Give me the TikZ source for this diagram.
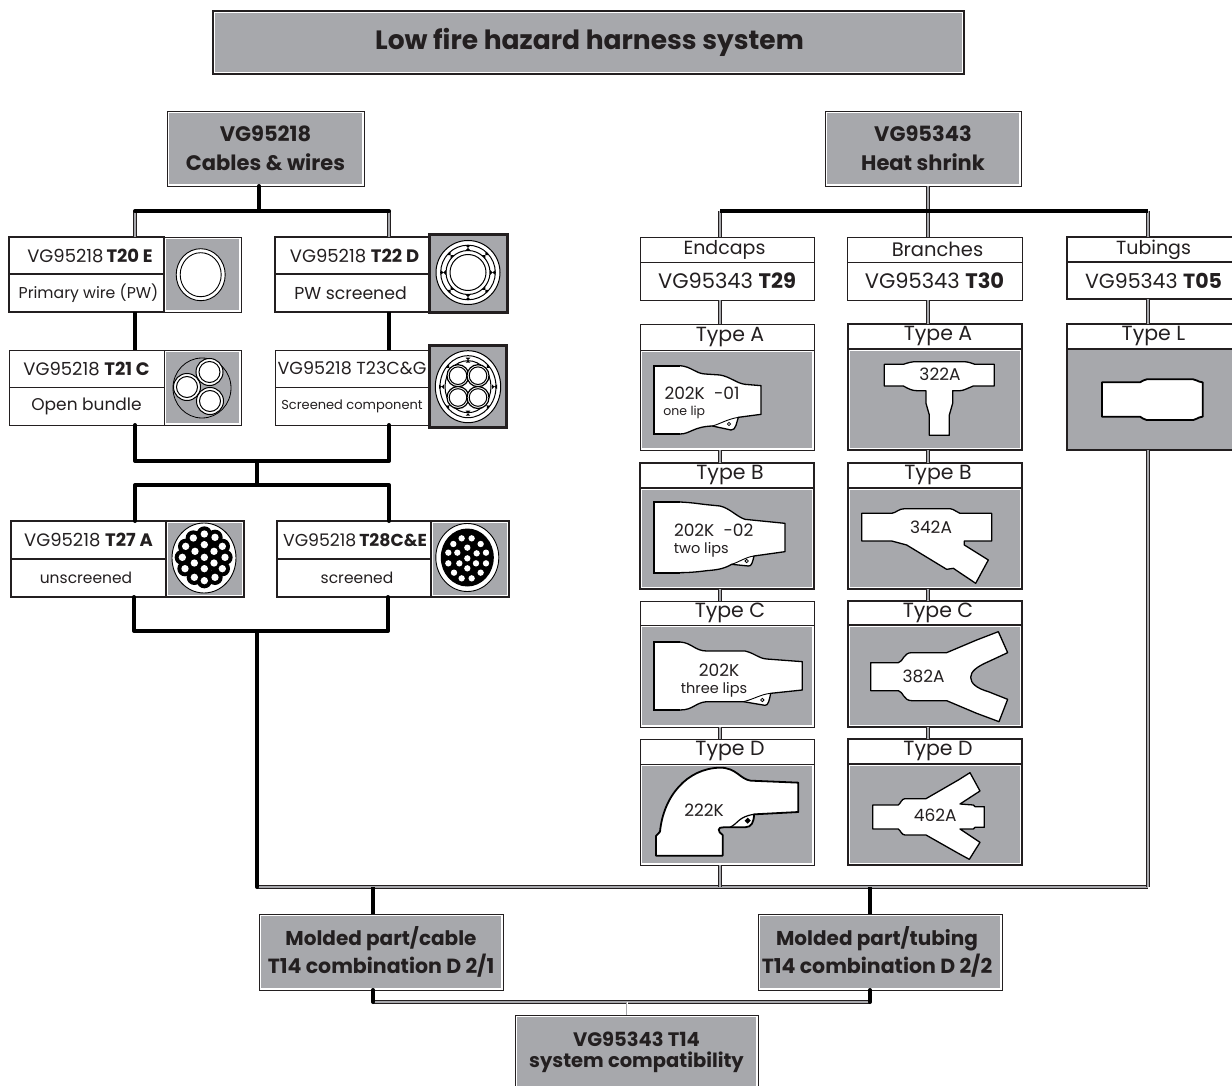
\documentclass[tikz,border=0pt]{standalone}
\usepackage{fontspec}
\setmainfont{Poppins}
\definecolor{hgray}{HTML}{A7A8AC}
\definecolor{ink}{HTML}{231F20}
\newcommand{\fs}[1]{\fontsize{#1}{#1}\selectfont}
% \cellbox{name}{x0}{y0}{x1}{y1}{style}{text}
\newcommand{\cellbox}[7]{\node[boxbase,#6,minimum width={(#4)-(#2)},minimum height={(#5)-(#3)}] (#1) at ({((#2)+(#4))/2},{((#3)+(#5))/2}) {#7};}
% gray panel with a white inner edge
\newcommand{\graybox}[7]{\node[boxbase,#6,fill=white,minimum width={(#4)-(#2)},minimum height={(#5)-(#3)}] (#1) at ({((#2)+(#4))/2},{((#3)+(#5))/2}) {};
\node[boxbase,draw=none,fill=hgray,minimum width={(#4)-(#2)-4},minimum height={(#5)-(#3)-4}] (#1-in) at (#1.center) {#7};}
\newcommand{\dn}[1]{\raisebox{-#1pt}}
\tikzset{
 boxbase/.style={rectangle,draw=ink,fill=white,inner sep=0pt,outer sep=0pt,align=center,text=ink,line width=1pt},
 thinb/.style={line width=0.9pt},
 medb/.style={line width=2pt},
 hvyb/.style={line width=3pt},
 boldline/.style={draw=black,line width=4pt,line cap=round,line join=round},
 twin/.style={draw=ink,line width=3.4pt,postaction={draw=hgray,line width=1.6pt}},
 shapeline/.style={draw=black,fill=white,line width=1.3pt,line join=round},
 part/.style={shift={(#1)},x=0.33333pt,y=-0.33333pt},
 lab/.style={inner sep=0pt,text=ink,align=center},
}
\begin{document}
\begin{tikzpicture}[x=1pt,y=-1pt]
\useasboundingbox (0,0) rectangle (1232,1086);
\fill[white] (0,0) rectangle (1232,1086);

% ---- head boxes
\graybox{title}{213}{11}{964}{74}{line width=2.6pt}{\hspace*{2pt}\fs{26.5}\bfseries Low fire hazard harness system}
\graybox{vgl}{167}{111}{364}{186}{thinb}{\fs{21}\bfseries VG95218\\[11pt]\fs{21}\bfseries Cables \& wires}
\graybox{vgr}{825}{111}{1021}{186}{thinb}{\fs{21}\bfseries VG95343\\[11pt]\fs{21}\bfseries Heat shrink}

% ---- left column
\cellbox{t20a}{9}{237}{164}{274}{medb}{\hspace*{7pt}\fs{18}VG95218\,\textbf{T20 E}}
\cellbox{t20b}{9}{274}{164}{312}{medb}{\hspace*{4pt}\fs{15.7}Primary wire (PW)}
\graybox{t20i}{164}{237}{241}{312}{thinb}{}
\cellbox{t22a}{275}{237}{429}{274}{medb}{\hspace*{5pt}\fs{18}VG95218 \textbf{T22 D}}
\cellbox{t22b}{275}{274}{429}{312}{medb}{\fs{17.3}PW screened\hspace*{3pt}}
\node[boxbase,hvyb,fill=hgray,minimum width=78,minimum height=78] (t22i) at (468.5,273.5) {};
\cellbox{t21a}{9}{350}{164}{387}{thinb}{\fs{18}VG95218 \textbf{T21 C}}
\cellbox{t21b}{9}{387}{164}{425}{thinb}{\fs{17}Open bundle}
\graybox{t21i}{164}{350}{241}{425}{thinb}{}
\cellbox{t23a}{275}{350}{429}{387}{thinb}{\fs{17.5}VG95218 T23C\&G}
\cellbox{t23b}{275}{387}{429}{425}{thinb}{\fs{13}Screened component}
\node[boxbase,hvyb,fill=hgray,minimum width=77,minimum height=82] (t23i) at (468,386.5) {};
\cellbox{t27a}{11}{521}{166}{559}{medb}{\fs{18}VG95218 \textbf{T27 A}}
\cellbox{t27b}{11}{559}{166}{597}{medb}{\hspace*{0pt}\fs{15.5}unscreened\hspace*{5pt}}
\graybox{t27i}{166}{521}{244}{597}{medb}{}
\cellbox{t28a}{277}{521}{431}{559}{medb}{\hspace*{2pt}\fs{17.3}VG95218\,\textbf{T28C\&E}}
\cellbox{t28b}{277}{559}{431}{597}{medb}{\hspace*{6pt}\fs{15.5}screened}
\graybox{t28i}{431}{521}{509}{597}{medb}{}

% ---- right column headers
\cellbox{enda}{640}{237}{814}{262}{thinb}{\dn{1.5}{\fs{19}Endcaps}\hspace*{5pt}}
\cellbox{endb}{640}{262}{814}{300}{thinb}{\dn{1}{\fs{21}VG95343 \textbf{T29}}}
\cellbox{bra}{847}{237}{1022}{262}{thinb}{\hspace*{6pt}\dn{1}{\fs{19.5}Branches}}
\cellbox{brb}{847}{262}{1022}{300}{thinb}{\dn{1}{\fs{21}VG95343 \textbf{T30}}}
\cellbox{tua}{1067}{237}{1236}{262}{medb}{\hspace*{4pt}\dn{1.5}{\fs{19}Tubings}}
\cellbox{tub}{1067}{262}{1236}{299}{medb}{\hspace*{4pt}\dn{1}{\fs{20.5}VG95343 \textbf{T05}}}

% ---- type panels: endcaps
\cellbox{eAh}{640}{324}{814}{350}{thinb}{\hspace*{6pt}\dn{2.5}{\fs{20.5}Type A}}
\graybox{eAp}{640}{350}{814}{450}{thinb}{}
\cellbox{eBh}{640}{463}{814}{488}{medb}{\hspace*{6pt}\dn{2.5}{\fs{20.5}Type B}}
\graybox{eBp}{640}{488}{814}{589}{medb}{}
\cellbox{eCh}{640}{601}{814}{625}{thinb}{\hspace*{6pt}\dn{2.5}{\fs{20.5}Type C}}
\graybox{eCp}{640}{625}{814}{727}{thinb}{}
\cellbox{eDh}{640}{739}{814}{764}{thinb}{\hspace*{6pt}\dn{2.5}{\fs{20.5}Type D}}
\graybox{eDp}{640}{764}{814}{865}{thinb}{}
% ---- branches
\cellbox{bAh}{848}{324}{1022}{349}{medb}{\hspace*{6pt}\dn{2.5}{\fs{20.5}Type A}}
\graybox{bAp}{848}{349}{1022}{450}{medb}{}
\cellbox{bBh}{848}{463}{1022}{488}{medb}{\hspace*{6pt}\dn{2.5}{\fs{20.5}Type B}}
\graybox{bBp}{848}{488}{1022}{589}{medb}{}
\cellbox{bCh}{848}{601}{1022}{625}{medb}{\hspace*{6pt}\dn{2.5}{\fs{20.5}Type C}}
\graybox{bCp}{848}{625}{1022}{727}{medb}{}
\cellbox{bDh}{848}{739}{1022}{764}{medb}{\hspace*{6pt}\dn{2.5}{\fs{20.5}Type D}}
\graybox{bDp}{848}{764}{1022}{865}{medb}{}
% ---- tubing
\cellbox{lh}{1067}{324}{1236}{349}{medb}{\hspace*{4pt}\dn{2.5}{\fs{20.5}Type L}}
\node[boxbase,medb,fill=hgray,minimum width=169,minimum height=101] (lp) at (1151.5,399.5) {};

% ---- bottom boxes
\graybox{mc}{259}{914}{503}{990}{thinb}{\fs{20}\bfseries Molded part/cable\\[2pt]\fs{20.5}\bfseries T14 combination D 2/1}
\graybox{mt}{758}{914}{1002}{990}{thinb}{\hspace*{-6pt}\fs{20}\bfseries Molded part/tubing\\[2pt]\hspace*{-6pt}\fs{20.5}\bfseries T14 combination D 2/2}
\graybox{sys}{515}{1015}{758}{1090}{thinb}{\raisebox{5pt}{\parbox{236pt}{\centering\fs{19.5}\bfseries VG95343 T14\\[2pt]system compatibility}}}

% ---- junctions
\coordinate (jla) at (135,211); \coordinate (jlb) at (389,211); \coordinate (jlm) at (259,211);
\coordinate (jra) at (720,211); \coordinate (jrb) at (1148,211); \coordinate (jrm) at (928,211);
\coordinate (j2a) at (135,461); \coordinate (j2b) at (389,461); \coordinate (j2m) at (257,461);
\coordinate (j3a) at (135,485); \coordinate (j3b) at (389,485); \coordinate (j3m) at (257,485);
\coordinate (j4a) at (134,631); \coordinate (j4b) at (388,631); \coordinate (j4m) at (257,631);
\coordinate (bl) at (257,887); \coordinate (br) at (1148,887); \coordinate (be) at (720,887);
\coordinate (bc) at (373,887); \coordinate (bt) at (870,887);
\coordinate (ma) at (373,1002); \coordinate (mb) at (870,1002); \coordinate (mm) at (627,1002);

% ---- connectors
\draw[twin] (jla) -- (t20a.north -| jla);
\draw[twin] (jlb) -- (t22a.north -| jlb);
\draw[boldline] (jla) -- (jlb);
\draw[boldline] (vgl.south -| jlm) -- (jlm);
\draw[boldline,line cap=butt] (t20b.south -| jla) -- (t21a.north -| jla);
\draw[boldline,line cap=butt] (t22b.south -| jlb) -- (t23a.north -| jlb);
\draw[boldline] (t21b.south -| j2a) -- (j2a) -- (j2b) -- (t23b.south -| j2b);
\draw[boldline,line cap=butt] (j2m) -- (j3m);
\draw[boldline] (t27a.north -| j3a) -- (j3a) -- (j3b) -- (t28a.north -| j3b);
\draw[boldline] (t27b.south -| j4a) -- (j4a) -- (j4b) -- (t28b.south -| j4b);
\draw[twin] (bl) -- (br);
\draw[boldline] (j4m) -- (bl);

\draw[twin] (vgr.south -| jrm) -- (bra.north -| jrm);
\draw[twin] (jra) -- (enda.north -| jra);
\draw[twin] (jrb) -- (tua.north -| jrb);
\draw[boldline,line cap=butt] (jra) -- (jrb);
\foreach \a/\b in {endb/eAh,eAp/eBh,eBp/eCh,eCp/eDh}{\draw[twin] (\a.south -| jra) -- (\b.north -| jra);}
\foreach \a/\b in {brb/bAh,bAp/bBh,bBp/bCh,bCp/bDh}{\draw[twin] (\a.south -| jrm) -- (\b.north -| jrm);}
\draw[twin] (tub.south -| jrb) -- (lh.north -| jrb);
\draw[twin] (eDp.south -| be) -- (be);
\draw[twin] (lp.south -| br) -- (br);
\draw[boldline,line cap=butt] (bc) -- (mc.north -| bc);
\draw[boldline,line cap=butt] (bt) -- (mt.north -| bt);
\draw[twin] (ma) -- (mb);
\draw[boldline] (mc.south -| ma) -- (ma);
\draw[boldline] (mt.south -| mb) -- (mb);
\draw[twin,line width=2.6pt,postaction={draw=white,line width=1pt}] (mm) -- (sys.north -| mm);

% ---- cable sections (white discs and rings)
\tikzset{ring/.style={draw=black,fill=white,line width=0.9pt}}
\draw[ring] (200.7,274.7) ellipse (24.5 and 26);
\draw[ring] (200.7,274.7) ellipse (20.5 and 22);

\foreach \r in {32,27.3,22,18}{\draw[ring,line width=1pt] (468,272.5) circle (\r);}
\foreach \a in {0,45,...,315}{\begin{scope}[shift={(468,272.5)},rotate=\a]\fill[black] (22,-2.5)--(27.3,2.5)--(27.3,-2.5)--(22,2.5)--cycle;\end{scope}}

\draw[draw=black,line width=0.8pt] (202,388) ellipse (29 and 30);
\foreach \p in {(209.5,372),(187,387),(210,401)}{\draw[ring,line width=1pt] \p circle (13.5); \draw[ring,line width=1pt] \p circle (10.5);}

\draw[ring,line width=1pt] (468,386.7) ellipse (32.7 and 36);
\draw[ring,line width=1pt] (468,386.7) ellipse (28 and 31);
\draw[ring,line width=1pt] (468,386.7) ellipse (23 and 26);
\foreach \a in {0,45,...,315}{\begin{scope}[shift={(468,386.7)},rotate=\a]\fill[black] (24,-2.3)--(29,2.3)--(29,-2.3)--(24,2.3)--cycle;\end{scope}}
\foreach \p in {(458,375.7),(478,375.7),(458,397.5),(478,397.5)}{\draw[ring,line width=1.2pt] \p circle (11); \draw[ring,line width=1pt] \p circle (8.8);}

\draw[ring] (204,558) ellipse (32 and 35);
\begin{scope}[part={165,518}]
\foreach \p in {(118,48),(85,60),(150,58),(62,85),(172,85),(90,100),(118,80),(147,100),(52,118),(180,118),(88,135),(118,118),(147,135),(60,152),(172,152),(118,152),(88,178),(118,188),(150,178)}{\fill[black] \p circle (23);}
\foreach \p in {(118,48),(85,60),(150,58),(62,85),(172,85),(90,100),(118,80),(147,100),(52,118),(180,118),(88,135),(118,118),(147,135),(60,152),(172,152),(118,152),(88,178),(118,188),(150,178)}{\fill[white] \p circle (11);}
\end{scope}
\draw[ring] (467.3,557.5) ellipse (31.5 and 34);
\fill[black] (467.3,557.5) ellipse (26.5 and 29);
\begin{scope}[part={0,450}]
\foreach \p in {(1385,265),(1415,265),(1360,282),(1442,282),(1345,308),(1372,308),(1402,293),(1430,310),(1458,308),(1345,340),(1378,340),(1402,325),(1428,340),(1458,340),(1402,355),(1362,368),(1442,368),(1385,385),(1415,385)}{\fill[white] \p circle (9.5);}
\end{scope}

% ---- molded parts, upper half
\begin{scope}[part={630,200}]
 \draw[shapeline] (72,497)--(150,497) .. controls (185,500) and (195,520) .. (225,522) -- (270,525) .. controls (300,530) and (320,550) .. (345,553) -- (393,557) -- (393,643) -- (325,652) .. controls (320,665) and (318,692) .. (303,690) -- (247,678) .. controls (190,680) and (180,702) .. (150,702) -- (72,702) -- cycle;
 \draw[black,line width=0.9pt] (247,678) .. controls (270,672) and (290,658) .. (325,652);
 \draw[black,line width=0.8pt] (297,672) circle (5);
 \draw[draw=black,line width=2pt] (150,497) -- (72,497) -- (72,702) -- (150,702);
 \node[lab] (l01) at (216,581) {\fs{17}202K \ -01};
 \node[lab] (l01b) at (163,636) {\fs{12.5}one lip};

 \draw[shapeline] (72,906)--(150,906) .. controls (190,908) and (210,912) .. (230,914) -- (270,918) .. controls (300,925) and (320,950) .. (345,958) -- (465,970) -- (465,1055) -- (372,1068) .. controls (368,1085) and (365,1100) .. (355,1098) -- (305,1093) .. controls (280,1108) and (255,1110) .. (230,1112) .. controls (200,1116) and (175,1118) .. (150,1118) -- (72,1118) -- cycle;
 \draw[black,line width=0.9pt] (305,1093) .. controls (330,1085) and (345,1072) .. (372,1068);
 \draw[black,line width=0.8pt] (350,1083) circle (5);
 \draw[draw=black,line width=2pt] (150,906) -- (72,906) -- (72,1118) -- (150,1118);
 \node[lab] (l02) at (251,992) {\fs{17}202K \ -02};
 \node[lab] (l02b) at (214,1050) {\fs{14.5}two lips};

 \draw[shapeline] (763,493)--(820,493) .. controls (835,488) and (845,485) .. (860,485) -- (1000,485) .. controls (1015,485) and (1025,490) .. (1035,493) -- (1093,493) -- (1093,558) -- (1030,558) .. controls (1010,566) and (1000,572) .. (990,572) -- (968,572) -- (968,610) -- (958,645) -- (958,706) -- (898,706) -- (898,645) -- (888,610) -- (888,572) -- (860,572) .. controls (845,572) and (835,566) .. (820,558) -- (763,558) -- cycle;
 \node[lab] (l322) at (930,522) {\fs{17}322A};

 \draw[shapeline] (695,940)--(785,940) .. controls (800,938) and (805,926) .. (825,926) -- (960,926) .. controls (975,928) and (980,938) .. (990,940) -- (1085,940) -- (1085,1023) -- (1003,1023) -- (1003,1035) -- (1075,1080) -- (1037,1150) -- (970,1105) -- (950,1108) -- (830,1035) -- (785,1023) -- (695,1023) -- cycle;
 \node[lab] (l342) at (903,982) {\fs{17}342A};
\end{scope}

% ---- molded parts, lower half
\begin{scope}[part={630,590}]
 \draw[shapeline] (72,156)--(150,156) .. controls (185,158) and (195,183) .. (230,183) -- (345,183) .. controls (375,190) and (385,205) .. (410,207) -- (517,215) -- (517,300) -- (422,310) .. controls (418,330) and (415,347) .. (405,346) -- (340,335) -- (230,335) .. controls (195,338) and (190,360) .. (150,360) -- (72,360) -- cycle;
 \draw[black,line width=0.9pt] (340,335) .. controls (365,330) and (395,312) .. (422,310);
 \draw[black,line width=0.8pt] (397,330) circle (5);
 \draw[draw=black,line width=2pt] (150,156) -- (72,156) -- (72,360) -- (150,360);
 \node[lab] (l03) at (267,240) {\fs{17}202K};
 \node[lab] (l03b) at (252,300) {\fs{14.5}three lips};

 \draw[shapeline,line width=1.8pt] (78,797) -- (78,738) -- (90,725) .. controls (100,620) and (170,535) .. (270,533) .. controls (320,533) and (330,568) .. (362,572) -- (505,578) -- (505,666) -- (372,673) .. controls (372,695) and (365,712) .. (345,712) -- (280,712) .. controls (262,710) and (262,725) .. (278,735) -- (278,797) -- cycle;
 \draw[black,line width=1.2pt] (300,712) .. controls (325,700) and (325,680) .. (372,673);
 \draw[black,line width=2pt] (353,692) circle (5);
 \node[lab] (l222) at (222,660) {\fs{17}222K};

 \draw[shapeline] (722,218) -- (805,218) .. controls (820,215) and (820,188) .. (845,188) -- (950,188) -- (1040,150) -- (1105,125) -- (1133,188) -- (1075,215) .. controls (1040,230) and (1022,245) .. (1022,262) .. controls (1022,280) and (1040,295) .. (1075,305) -- (1133,328) -- (1107,395) -- (1040,370) -- (950,332) -- (845,332) .. controls (820,332) and (820,305) .. (805,302) -- (722,302) -- cycle;
 \node[lab] (l382) at (881,260) {\fs{17}382A};

 \draw[shapeline] (728,645) -- (805,645) .. controls (812,640) and (815,626) .. (825,626) -- (888,626) -- (985,570) -- (1020,548) -- (1050,603) -- (990,642) -- (1030,645) -- (1035,650) -- (1063,650) -- (1063,712) -- (1035,712) -- (1030,717) -- (990,717) -- (1050,757) -- (1018,808) -- (985,790) -- (888,735) -- (825,735) .. controls (815,735) and (812,722) .. (805,717) -- (728,717) -- cycle;
 \node[lab] (l462) at (916,677) {\fs{17}462A};
\end{scope}

% ---- tubing shape
\begin{scope}[part={1030,200}]
 \draw[shapeline,line width=1.8pt] (216,547) -- (330,547) .. controls (338,545) and (340,538) .. (350,538) -- (490,538) .. controls (500,538) and (500,545) .. (518,547) -- (518,650) .. controls (500,652) and (500,660) .. (490,660) -- (350,660) .. controls (340,660) and (338,652) .. (330,650) -- (216,650) -- cycle;
\end{scope}
\end{tikzpicture}
\end{document}
